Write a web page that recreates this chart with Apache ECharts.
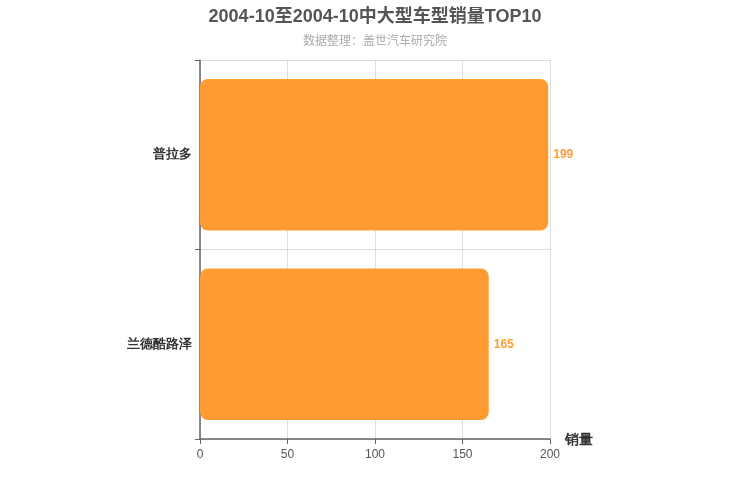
<!DOCTYPE html>
<html><head><meta charset="utf-8">
<script src="https://cdn.jsdelivr.net/npm/echarts@6/dist/echarts.min.js"></script>
<style>html,body{margin:0;padding:0;background:#fff}#c{width:750px;height:500px}</style>
</head><body><div id="c"></div>
<script>
const categories = ['兰德酷路泽', '普拉多'];
const sales = [165, 199];
const xTicks = [0, 50, 100, 150, 200];

const chart = echarts.init(document.getElementById('c'));
chart.setOption({
  backgroundColor: '#fff',
  animation: false,
  title: {
    text: '2004-10至2004-10中大型车型销量TOP10',
    subtext: '数据整理：盖世汽车研究院',
    left: 'center', top: 3,
    textStyle: {fontSize: 18, fontWeight: 'bold', color: '#555', fontFamily: 'Liberation Sans, Noto Sans CJK SC'},
    subtextStyle: {fontSize: 12, color: '#aaa', fontFamily: 'Liberation Sans, Noto Sans CJK SC'},
    itemGap: 10
  },
  grid: {left: 200, right: 200, top: 60, bottom: 61},
  xAxis: {
    type: 'value', min: xTicks[0], max: xTicks[xTicks.length - 1], interval: 50,
    name: '销量', nameLocation: 'end', nameGap: 15,
    nameTextStyle: {fontSize: 14, fontWeight: 'bold', color: '#333', verticalAlign: 'top', padding: [-6, 0, 0, 0]},
    axisLine: {show: true, lineStyle: {color: '#666', width: 1.5}},
    axisTick: {show: true, lineStyle: {color: '#666'}},
    axisLabel: {color: '#555', fontSize: 12, margin: 10, fontFamily: 'Liberation Sans'},
    splitLine: {show: true, lineStyle: {color: '#ddd'}}
  },
  yAxis: {
    type: 'category', data: categories,
    axisLine: {show: true, lineStyle: {color: '#666', width: 1.5}},
    axisTick: {show: true, length: 5, lineStyle: {color: '#666'}},
    axisLabel: {color: '#333', fontSize: 13, fontWeight: 'bold', margin: 8},
    splitLine: {show: true, lineStyle: {color: '#ddd'}}
  },
  series: [{
    type: 'bar', data: sales, barWidth: '80%',
    itemStyle: {color: '#FF9B33', borderRadius: 8},
    label: {show: true, position: 'right', color: '#FF9B33', fontWeight: 'bold', fontSize: 12, fontFamily: 'Liberation Sans'}
  }]
});
</script></body></html>
